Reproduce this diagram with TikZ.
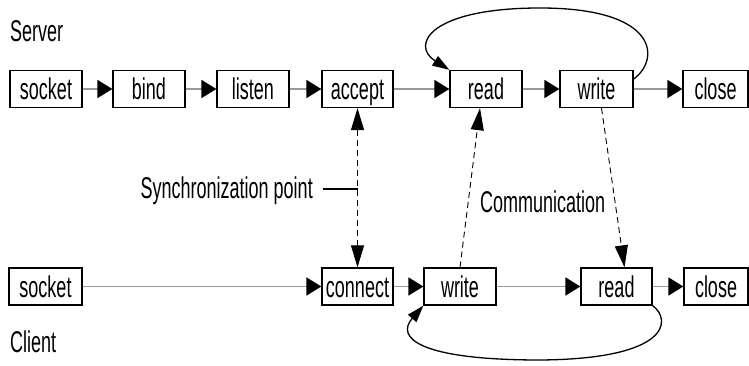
\documentclass[tikz,border=0pt]{standalone}
\usepackage{fontspec}
\usepackage{graphicx}
\setmainfont{Liberation Sans}
\usetikzlibrary{arrows.meta}
\newcommand{\sq}[1]{\scalebox{0.6}[1]{#1}}
\definecolor{flowgray}{HTML}{9A9A9A}
\begin{document}
\begin{tikzpicture}[x=1pt,y=-1pt,
  stepbox/.style={draw, line width=1.3pt, minimum width=72pt, minimum height=37pt,
    inner sep=0pt, text height=22pt, text depth=0pt, font=\fontsize{30}{36}\selectfont},
  lbl/.style={inner sep=0pt, font=\fontsize{30}{36}\selectfont},
  flow/.style={draw=flowgray, line width=1.8pt, -{Triangle[length=15pt,width=18pt,color=black]}},
  dsh/.style={draw=black, line width=0.9pt, dash pattern=on 6pt off 4pt},
  dtip/.style={-{Triangle[length=22pt,width=13pt,color=black]}},
  loopline/.style={draw=black, line width=1.3pt, -{Triangle[length=17pt,width=11pt,color=black]}}
]
\useasboundingbox (0,0) rectangle (749,366);
% labels
\node[lbl, anchor=base west] (server) at (10,42) {\sq{Server}};
\node[lbl, anchor=base west] (client) at (10,352) {\sq{Client}};
\node[lbl, anchor=base east] (sync) at (313,198) {\sq{Synchronization point}};
\node[lbl, anchor=base west] (comm) at (480,212) {\sq{Communication}};
% server row
\node[stepbox] (ssock) at (46,89) {\sq{socket}};
\node[stepbox] (sbind) at (149,89) {\sq{bind}};
\node[stepbox] (slisten) at (253,89) {\sq{listen}};
\node[stepbox, minimum width=71pt] (saccept) at (357.5,89) {\sq{accept}};
\node[stepbox] (sread) at (486,89) {\sq{read}};
\node[stepbox, minimum width=73pt] (swrite) at (596.5,89) {\sq{write}};
\node[stepbox, minimum width=65pt] (sclose) at (715.5,89) {\sq{close}};
% client row
\node[stepbox, minimum width=73pt] (csock) at (45.5,286.5) {\sq{socket}};
\node[stepbox, minimum width=71pt] (cconnect) at (357.5,286.5) {\sq{connect}};
\node[stepbox] (cwrite) at (460,286.5) {\sq{write}};
\node[stepbox, minimum width=71pt] (cread) at (616.5,286.5) {\sq{read}};
\node[stepbox, minimum width=64pt] (cclose) at (716,286.5) {\sq{close}};
% flows
\draw[flow] (ssock) -- (sbind);
\draw[flow] (sbind) -- (slisten);
\draw[flow] (slisten) -- (saccept);
\draw[flow] (saccept) -- (sread);
\draw[flow] (sread) -- (swrite);
\draw[flow] (swrite) -- (sclose);
\draw[flow] (csock) -- (cconnect);
\draw[flow] (cconnect) -- (cwrite);
\draw[flow] (cwrite) -- (cread);
\draw[flow] (cread) -- (cclose);
% synchronization
\draw[dsh, {Triangle[length=22pt,width=13pt]}-{Triangle[length=22pt,width=13pt]}] (saccept.south) -- (cconnect.north);
\coordinate (sl) at (323,189);
\draw[line width=1.2pt] (sl) -- (sl -| saccept.south);
% communication
\draw[dsh, dtip] (cwrite.north) -- ([xshift=-6pt]sread.south);
\draw[dsh, dtip] ([xshift=5pt]swrite.south) -- ([xshift=8pt]cread.north);
% loops
\draw[loopline] ([yshift=10pt]swrite.east) .. controls (660,60) and (660,8) .. (540,8)
   .. controls (430,8) and (410,45) .. (sread.north west);
\draw[loopline] (cread.south east) .. controls (672,320) and (670,359) .. (540,360)
   .. controls (420,360) and (395,338) .. (cwrite.south west);
\end{tikzpicture}
\end{document}
